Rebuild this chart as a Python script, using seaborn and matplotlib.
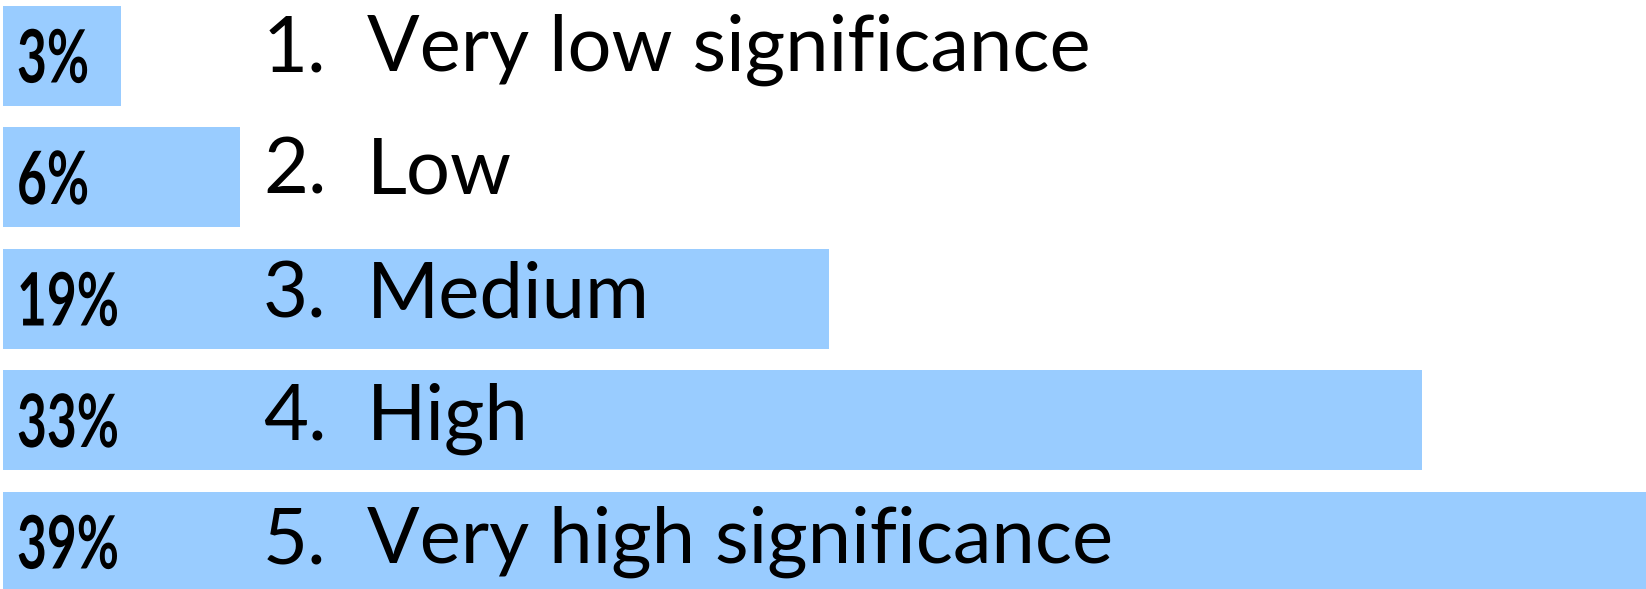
import matplotlib
matplotlib.use("Agg")
import matplotlib.pyplot as plt
import seaborn as sns
import pandas as pd
from matplotlib import patheffects
from matplotlib.transforms import Affine2D

categories = ["Very low significance", "Low", "Medium", "High", "Very high significance"]
numbers = ["1.", "2.", "3.", "4.", "5."]
values = [2.75, 5.5, 19.2, 33.0, 39.4]
pct_labels = ["3%", "6%", "19%", "33%", "39%"]


class Squeeze(patheffects.AbstractPathEffect):
    """Condense glyphs horizontally (text stays a real Text object)."""
    def __init__(self, sx):
        super().__init__()
        self.sx = sx

    def draw_path(self, renderer, gc, tpath, affine, rgbFace=None):
        renderer.draw_path(gc, tpath, Affine2D().scale(self.sx, 1) + affine, rgbFace)


sns.set_theme(style="white")
plt.rcParams["font.family"] = ["Lato", "DejaVu Sans"]

df = pd.DataFrame({"cat": categories, "val": values})

W, H = 1646, 589
fig = plt.figure(figsize=(W / 100, H / 100), dpi=100)
ax = fig.add_axes([0, 0, 1, 1])
sns.barplot(data=df, x="val", y="cat", order=categories, color="#99CCFF",
            saturation=1, width=100 / 121.5, ax=ax, edgecolor="none")

px = 43.0  # pixels per percent
ax.set_xlim(-3 / px, (W - 3) / px)
period = 121.5
ax.set_ylim(4 + (H - 542) / period, -56 / period)
ax.axis("off")

for i in range(len(categories)):
    ax.text(14 / px, i + 26.5 / period, pct_labels[i], fontsize=53,
            fontweight="bold", ha="left", va="baseline", color="black",
            path_effects=[Squeeze(0.7)])
    yb = 1 - (71 + 123 * i) / H
    ax.text(263 / W, yb, numbers[i], transform=ax.transAxes, fontsize=56,
            ha="left", va="baseline", color="black")
    ax.text(367 / W, yb, categories[i], transform=ax.transAxes, fontsize=56,
            ha="left", va="baseline", color="black")

fig.savefig("out.png", dpi=100)
